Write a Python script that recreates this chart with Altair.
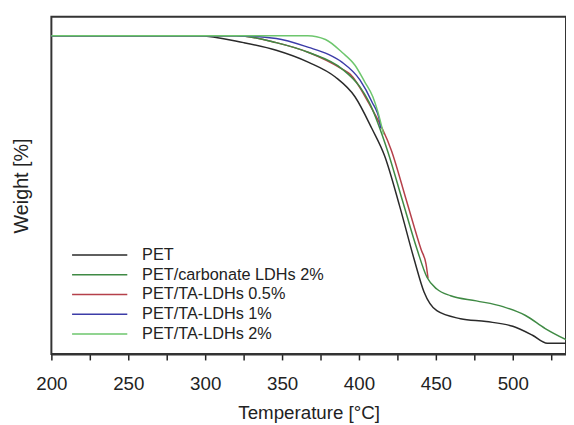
import altair as alt
import pandas as pd

series_names = ["PET", "PET/carbonate LDHs 2%", "PET/TA-LDHs 0.5%", "PET/TA-LDHs 1%", "PET/TA-LDHs 2%"]
series_colors = ["#2a2a2a", "#3f8a44", "#b5404a", "#3c3ca8", "#6dc66d"]

pet_T = [200, 294.9, 325.0, 346.2, 367.3, 384.6, 397.4, 408.3, 416.7, 426.3, 435.9, 442.3, 450.6, 466.0, 482.7, 500.0, 512.8, 522.4, 534.6]
pet_W = [100, 100, 97.8, 95.4, 91.6, 87.0, 80.8, 70.9, 62.2, 46.7, 29.7, 19.5, 13.6, 11.1, 10.2, 8.7, 5.9, 3.4, 3.4]

carb_T = [200, 320.5, 346.2, 367.3, 389.1, 400.6, 406.4, 418.6, 428.2, 437.8, 444.2, 450.6, 459.6, 476.3, 493.6, 508.3, 521.1, 534.6]
carb_W = [100, 100, 97.8, 94.7, 89.5, 83.9, 79.3, 63.8, 48.3, 32.8, 24.1, 20.4, 18.3, 16.7, 14.9, 12.1, 8.0, 4.5]

ta05_T = [200, 320.5, 346.2, 367.3, 389.1, 394.2, 405.8, 421.2, 430.8, 440.4, 443.6, 444.9]
ta05_W = [100, 100, 97.8, 94.7, 89.5, 87.9, 79.3, 63.8, 48.3, 32.8, 28.2, 23.8]

ta1_T = [200, 320.5, 346.2, 367.3, 380.1, 389.1, 400.6, 408.3, 413.5, 414.1]
ta1_W = [100, 100, 99.1, 96.3, 94.1, 91.6, 86.1, 79.3, 73.1, 70.9]

ta2_T = [200, 366.7, 378.2, 389.1, 397.4, 403.8, 409.0, 412.2, 416.0]
ta2_W = [100, 100, 98.8, 94.7, 90.7, 85.4, 80.8, 76.2, 69.0]

all_T = [pet_T, carb_T, ta05_T, ta1_T, ta2_T]
all_W = [pet_W, carb_W, ta05_W, ta1_W, ta2_W]

rows = []
for name, ts, ws in zip(series_names, all_T, all_W):
    for i, (t, w) in enumerate(zip(ts, ws)):
        rows.append({"series": name, "T": t, "W": w, "i": i})
df = pd.DataFrame(rows)

FONT = "Liberation Sans"

color_enc = alt.Color(
    "series:N",
    scale=alt.Scale(domain=series_names, range=series_colors),
    legend=alt.Legend(
        title=None, orient="none", legendX=20, legendY=232,
        symbolType="stroke", symbolSize=3136, symbolStrokeWidth=1.5,
        labelFontSize=16.5, labelFont=FONT, labelOffset=14, labelColor="#222",
        clipHeight=19.3, rowPadding=0, padding=0, labelLimit=400,
    ),
)

x_enc = alt.X(
    "T:Q",
    scale=alt.Scale(domain=[200, 534.6], nice=False, zero=False),
    axis=alt.Axis(
        title="Temperature [°C]", values=list(range(200, 526, 25)),
        labelExpr="datum.value % 50 == 0 ? datum.label : ''",
        labelFlush=False, labelOverlap=False,
        tickSize=6, tickWidth=1.5, tickColor="#222", domainColor="#333", domainWidth=2,
        labelFontSize=19, labelFont=FONT, labelColor="#222", labelPadding=15,
        titleFontSize=19, titleFont=FONT, titleFontWeight="normal", titleColor="#222",
        titlePadding=10, grid=False,
    ),
)
y_enc = alt.Y(
    "W:Q",
    scale=alt.Scale(domain=[0, 105.9], nice=False, zero=False),
    axis=alt.Axis(
        title="Weight [%]", labels=False, ticks=False, domain=False, grid=False,
        titleFontSize=20, titleFont=FONT, titleFontWeight="normal", titleColor="#222",
        titlePadding=20,
    ),
)

draw_order = ["PET", "PET/TA-LDHs 0.5%", "PET/carbonate LDHs 2%", "PET/TA-LDHs 1%", "PET/TA-LDHs 2%"]
layers = []
for s in draw_order:
    layers.append(
        alt.Chart(df).transform_filter(alt.datum.series == s)
        .mark_line(strokeWidth=1.5, interpolate="monotone")
        .encode(x=x_enc, y=y_enc, color=color_enc, order="i:Q")
    )

chart = alt.layer(*layers).properties(
    width=522, height=342,
    autosize=alt.AutoSizeParams(type="none"),
    padding={"left": 44, "top": 6, "right": 0, "bottom": 68},
).configure_view(stroke="#333", strokeWidth=2)

chart.save("out.html", embed_options={"renderer": "svg", "actions": False})
